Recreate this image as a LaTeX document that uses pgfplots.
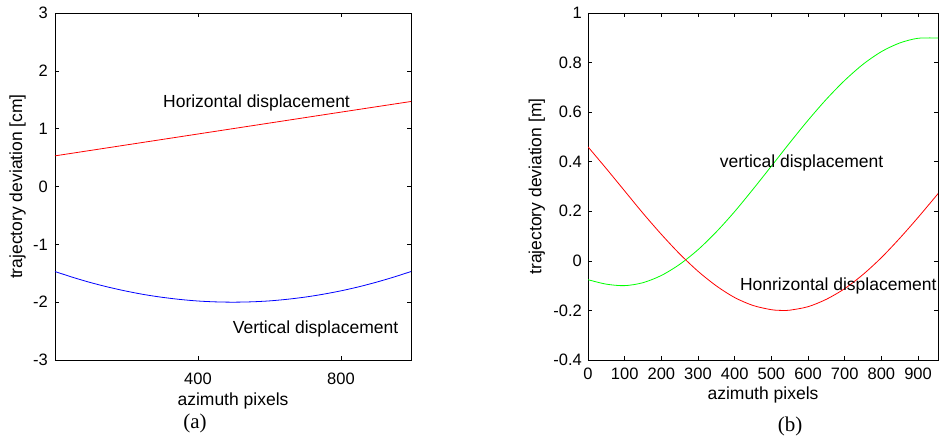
\documentclass[border=0pt]{standalone}
\usepackage{pgfplots}
\pgfplotsset{compat=1.18}
\usepackage{fontspec}
\setmainfont{Liberation Sans}
\newfontfamily\timesfont{Liberation Serif}
\begin{document}
\begin{tikzpicture}
\useasboundingbox (0,0) rectangle (939pt,437pt);
\pgfplotsset{
  myaxis/.style={
    scale only axis,
    anchor=south west,
    height=347pt,
    /pgf/number format/assume math mode=true,
    tick align=inside,
    xtick pos=both, ytick pos=both,
    major tick length=4pt,
    axis line style={line width=0.9pt},
    every tick/.style={black, line width=0.6pt},
    tick label style={font=\fontsize{16.5}{19}\selectfont},
    label style={font=\fontsize{17.5}{21}\selectfont},
    yticklabel style={inner sep=0pt, anchor=east},
    xticklabel style={inner sep=0pt, anchor=north},
    ylabel style={anchor=center, inner sep=0pt},
    xlabel style={at={(axis description cs:0.5,0)}, anchor=north, inner sep=0pt},
    every axis plot/.append style={line width=0.8pt, smooth},
  }
}
% ---------- (a) ----------
\begin{axis}[myaxis,
  at={(55pt,77pt)}, width=356pt,
  xmin=0, xmax=996, ymin=-3, ymax=3,
  xtick={400,800}, ytick={-3,-2,-1,0,1,2,3},
  yticklabel style={xshift=-7pt},
  xticklabel style={yshift=-13pt},
  xlabel={azimuth pixels},
  xlabel style={yshift=-33pt},
  ylabel={trajectory deviation [cm]},
  ylabel style={at={(axis description cs:-0.105,0.5)}},
]
\addplot[color={rgb,1:red,1;green,0;blue,0}] coordinates {
(0,0.53) (200,0.719) (400,0.908) (600,1.097) (800,1.286) (996,1.47)};
\addplot[color={rgb,1:red,0;green,0;blue,1}] coordinates {
(0,-1.470) (50,-1.571) (100,-1.662) (150,-1.741) (200,-1.810) (250,-1.869)
(300,-1.916) (350,-1.953) (400,-1.980) (450,-1.995) (500,-2.000) (550,-1.994)
(600,-1.978) (650,-1.950) (700,-1.912) (750,-1.863) (800,-1.804) (850,-1.734)
(900,-1.653) (950,-1.562) (996,-1.470)};
\node[anchor=base west, inner sep=0pt, font=\fontsize{17.5}{21}\selectfont] at (axis cs:302,1.362) {Horizontal displacement};
\node[anchor=base west, inner sep=0pt, font=\fontsize{17.5}{21}\selectfont] at (axis cs:497,-2.539) {Vertical displacement};
\end{axis}
% ---------- (b) ----------
\begin{axis}[myaxis,
  at={(588pt,77pt)}, width=350pt,
  xmin=0, xmax=954.5, ymin=-0.4, ymax=1,
  xtick={0,100,200,300,400,500,600,700,800,900},
  ytick={-0.4,-0.2,0,0.2,0.4,0.6,0.8,1},
  yticklabel style={xshift=-6pt},
  xticklabel style={yshift=-8pt},
  xlabel={azimuth pixels},
  xlabel style={yshift=-27pt},
  ylabel={trajectory deviation [m]},
  ylabel style={at={(axis description cs:-0.146,0.5)}},
]
\addplot[color={rgb,1:red,0;green,1;blue,0}] coordinates {
(0,-0.076) (50,-0.094) (100,-0.100) (150,-0.088) (200,-0.059) (250,-0.014)
(300,0.045) (350,0.117) (400,0.199) (450,0.289) (500,0.382) (550,0.476)
(600,0.567) (650,0.652) (700,0.728) (750,0.793) (800,0.844) (850,0.879)
(900,0.898) (954.5,0.899)};
\addplot[color={rgb,1:red,1;green,0;blue,0}] coordinates {
(0,0.460) (50,0.372) (100,0.282) (150,0.192) (200,0.107) (250,0.028)
(300,-0.042) (350,-0.101) (400,-0.148) (450,-0.180) (500,-0.197) (530,-0.200)
(550,-0.199) (600,-0.185) (650,-0.155) (700,-0.112) (750,-0.055) (800,0.013)
(850,0.091) (900,0.175) (954.5,0.271)};
\node[anchor=base west, inner sep=0pt, font=\fontsize{17.5}{21}\selectfont] at (axis cs:359,0.376) {vertical displacement};
\node[anchor=base west, inner sep=0pt, font=\fontsize{17.5}{21}\selectfont] at (axis cs:414,-0.118) {Honrizontal displacement};
\end{axis}
\node[font=\timesfont\fontsize{21}{24}\selectfont, inner sep=0pt] at (195pt,14pt) {(a)};
\node[font=\timesfont\fontsize{21}{24}\selectfont, inner sep=0pt] at (790pt,11pt) {(b)};
\end{tikzpicture}
\end{document}
